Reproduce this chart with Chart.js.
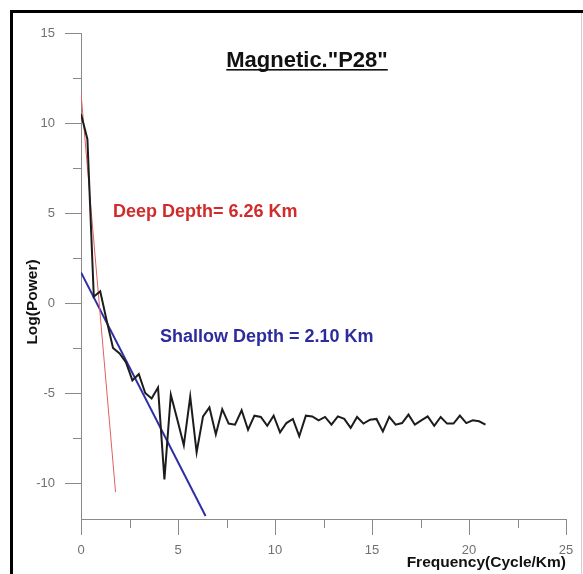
<!DOCTYPE html>
<html>
<head>
<meta charset="utf-8">
<script src="https://cdn.jsdelivr.net/npm/chart.js@4.4.1/dist/chart.umd.min.js"></script>
<style>
  html, body { margin: 0; padding: 0; background: #fff; }
  #wrap { width: 583px; height: 574px; }
</style>
</head>
<body>
<div id="wrap"><canvas id="spectrum" width="583" height="574"></canvas></div>
<script>
// radially averaged power spectrum
const freq = [0, 0.33, 0.66, 0.99, 1.32, 1.65, 1.99, 2.32, 2.65, 2.98,
  3.31, 3.64, 3.97, 4.30, 4.63, 4.97, 5.30, 5.63, 5.96, 6.29,
  6.62, 6.95, 7.28, 7.61, 7.94, 8.28, 8.61, 8.94, 9.27, 9.60,
  9.93, 10.26, 10.59, 10.92, 11.25, 11.59, 11.92, 12.25, 12.58, 12.91,
  13.24, 13.57, 13.90, 14.23, 14.56, 14.90, 15.23, 15.56, 15.89, 16.22,
  16.55, 16.88, 17.21, 17.54, 17.87, 18.21, 18.54, 18.87, 19.20, 19.53,
  19.86, 20.19, 20.52, 20.85];
const logPower = [10.5, 9.1, 0.35, 0.65, -0.95, -2.5, -2.8, -3.3, -4.3, -3.95,
  -5.0, -5.3, -4.7, -9.8, -5.1, -6.5, -7.9, -5.2, -8.3, -6.3,
  -5.8, -7.3, -5.9, -6.7, -6.76, -5.96, -7.04, -6.26, -6.33, -6.82,
  -6.26, -7.19, -6.67, -6.44, -7.4, -6.26, -6.3, -6.52, -6.33, -6.76,
  -6.3, -6.44, -6.94, -6.33, -6.7, -6.48, -6.44, -7.13, -6.33, -6.76,
  -6.67, -6.2, -6.76, -6.52, -6.3, -6.82, -6.33, -6.7, -6.7, -6.26,
  -6.67, -6.52, -6.57, -6.76];

// fitted straight lines (end points)
const deepFitX = [0, 1.78];
const deepFitY = [11.65, -10.5];
const shallowFitX = [0, 6.42];
const shallowFitY = [1.7, -11.83];

const xTicks = [0, 2.5, 5, 7.5, 10, 12.5, 15, 17.5, 20, 22.5, 25];
const yTicks = [-10, -7.5, -5, -2.5, 0, 2.5, 5, 7.5, 10, 12.5, 15];

const titleText = 'Magnetic."P28"';
const deepLabel = 'Deep Depth= 6.26 Km';
const shallowLabel = 'Shallow Depth = 2.10 Km';
const yTitle = 'Log(Power)';
const xTitle = 'Frequency(Cycle/Km)';

const FONT = "'Liberation Sans', Arial, Helvetica, sans-serif";
Chart.defaults.font.family = FONT;

function pts(xs, ys) {
  return xs.map((x, i) => ({ x: x, y: ys[i] }));
}

const isMajor = v => Math.abs(v % 5) < 1e-9;

const extras = {
  id: 'extras',
  beforeDraw(chart) {
    const ctx = chart.ctx;
    ctx.save();
    ctx.fillStyle = '#fff';
    ctx.fillRect(0, 0, chart.width, chart.height);
    ctx.restore();
  },
  afterDraw(chart) {
    const ctx = chart.ctx;
    const xs = chart.scales.x, ys = chart.scales.y;
    ctx.save();

    // short minor ticks
    ctx.strokeStyle = '#8a8a8a';
    ctx.lineWidth = 1;
    xTicks.filter(v => !isMajor(v)).forEach(v => {
      const px = Math.round(xs.getPixelForValue(v)) + 0.5;
      ctx.beginPath();
      ctx.moveTo(px, xs.top);
      ctx.lineTo(px, xs.top + 9);
      ctx.stroke();
    });
    yTicks.filter(v => !isMajor(v)).forEach(v => {
      const py = Math.round(ys.getPixelForValue(v)) + 0.5;
      ctx.beginPath();
      ctx.moveTo(ys.right, py);
      ctx.lineTo(ys.right - 8, py);
      ctx.stroke();
    });

    // frame
    ctx.fillStyle = '#000';
    ctx.fillRect(10, 10, 573, 3);
    ctx.fillRect(10, 10, 3, 564);
    ctx.fillStyle = '#cfcfcf';
    ctx.fillRect(581, 13, 1, 561);

    // title with underline
    ctx.font = 'bold 22px ' + FONT;
    ctx.fillStyle = '#111';
    ctx.textAlign = 'center';
    ctx.textBaseline = 'alphabetic';
    ctx.fillText(titleText, 307, 67);
    const tw = ctx.measureText(titleText).width;
    ctx.fillRect(307 - tw / 2, 69, tw, 1.6);

    // depth labels
    ctx.font = 'bold 18px ' + FONT;
    ctx.textAlign = 'left';
    ctx.textBaseline = 'middle';
    ctx.fillStyle = '#d12b2b';
    ctx.fillText(deepLabel, 113, 212);
    ctx.fillStyle = '#2c2ca0';
    ctx.fillText(shallowLabel, 160, 337);

    // y axis title
    ctx.font = 'bold 15.5px ' + FONT;
    ctx.fillStyle = '#111';
    ctx.translate(33, 302);
    ctx.rotate(-Math.PI / 2);
    ctx.textAlign = 'center';
    ctx.fillText(yTitle, 0, 0);

    ctx.restore();
  }
};

const ctx = document.getElementById('spectrum').getContext('2d');
const chart = new Chart(ctx, {
  type: 'line',
  data: {
    datasets: [{
      label: 'Spectrum',
      data: pts(freq, logPower),
      borderColor: '#1c1c1c',
      borderWidth: 2,
      pointRadius: 0,
      tension: 0
    }, {
      label: 'Deep',
      data: pts(deepFitX, deepFitY),
      borderColor: '#e06060',
      borderWidth: 1,
      pointRadius: 0
    }, {
      label: 'Shallow',
      data: pts(shallowFitX, shallowFitY),
      borderColor: '#2e2ea6',
      borderWidth: 2,
      pointRadius: 0
    }]
  },
  options: {
    responsive: false,
    animation: false,
    layout: { padding: { top: 33, right: 17, left: 0, bottom: 0 } },
    plugins: {
      legend: { display: false },
      tooltip: { enabled: false }
    },
    scales: {
      x: {
        type: 'linear',
        min: 0,
        max: 25,
        afterBuildTicks: s => { s.ticks = xTicks.map(v => ({ value: v })); },
        afterFit: s => { s.height = 55; },
        border: { display: true, color: '#8a8a8a', width: 1 },
        grid: {
          display: true,
          drawOnChartArea: false,
          drawTicks: true,
          tickLength: 16,
          tickColor: c => isMajor(c.tick.value) ? '#8a8a8a' : 'rgba(0,0,0,0)'
        },
        ticks: {
          padding: 8,
          color: '#707070',
          font: { size: 13 },
          maxRotation: 0,
          autoSkip: false,
          callback: v => isMajor(v) ? String(v) : ''
        },
        title: {
          display: true,
          text: xTitle,
          align: 'end',
          color: '#111',
          font: { size: 15.5, weight: 'bold' },
          padding: { top: 0, bottom: 2 }
        }
      },
      y: {
        type: 'linear',
        min: -12,
        max: 15,
        afterBuildTicks: s => { s.ticks = yTicks.map(v => ({ value: v })); },
        afterFit: s => { s.width = 81; },
        border: { display: true, color: '#8a8a8a', width: 1 },
        grid: {
          display: true,
          drawOnChartArea: false,
          drawTicks: true,
          tickLength: 16,
          tickColor: c => isMajor(c.tick.value) ? '#8a8a8a' : 'rgba(0,0,0,0)'
        },
        ticks: {
          padding: 10,
          color: '#707070',
          font: { size: 13 },
          autoSkip: false,
          callback: v => isMajor(v) ? String(v) : ''
        }
      }
    }
  },
  plugins: [extras]
});
</script>
</body>
</html>
